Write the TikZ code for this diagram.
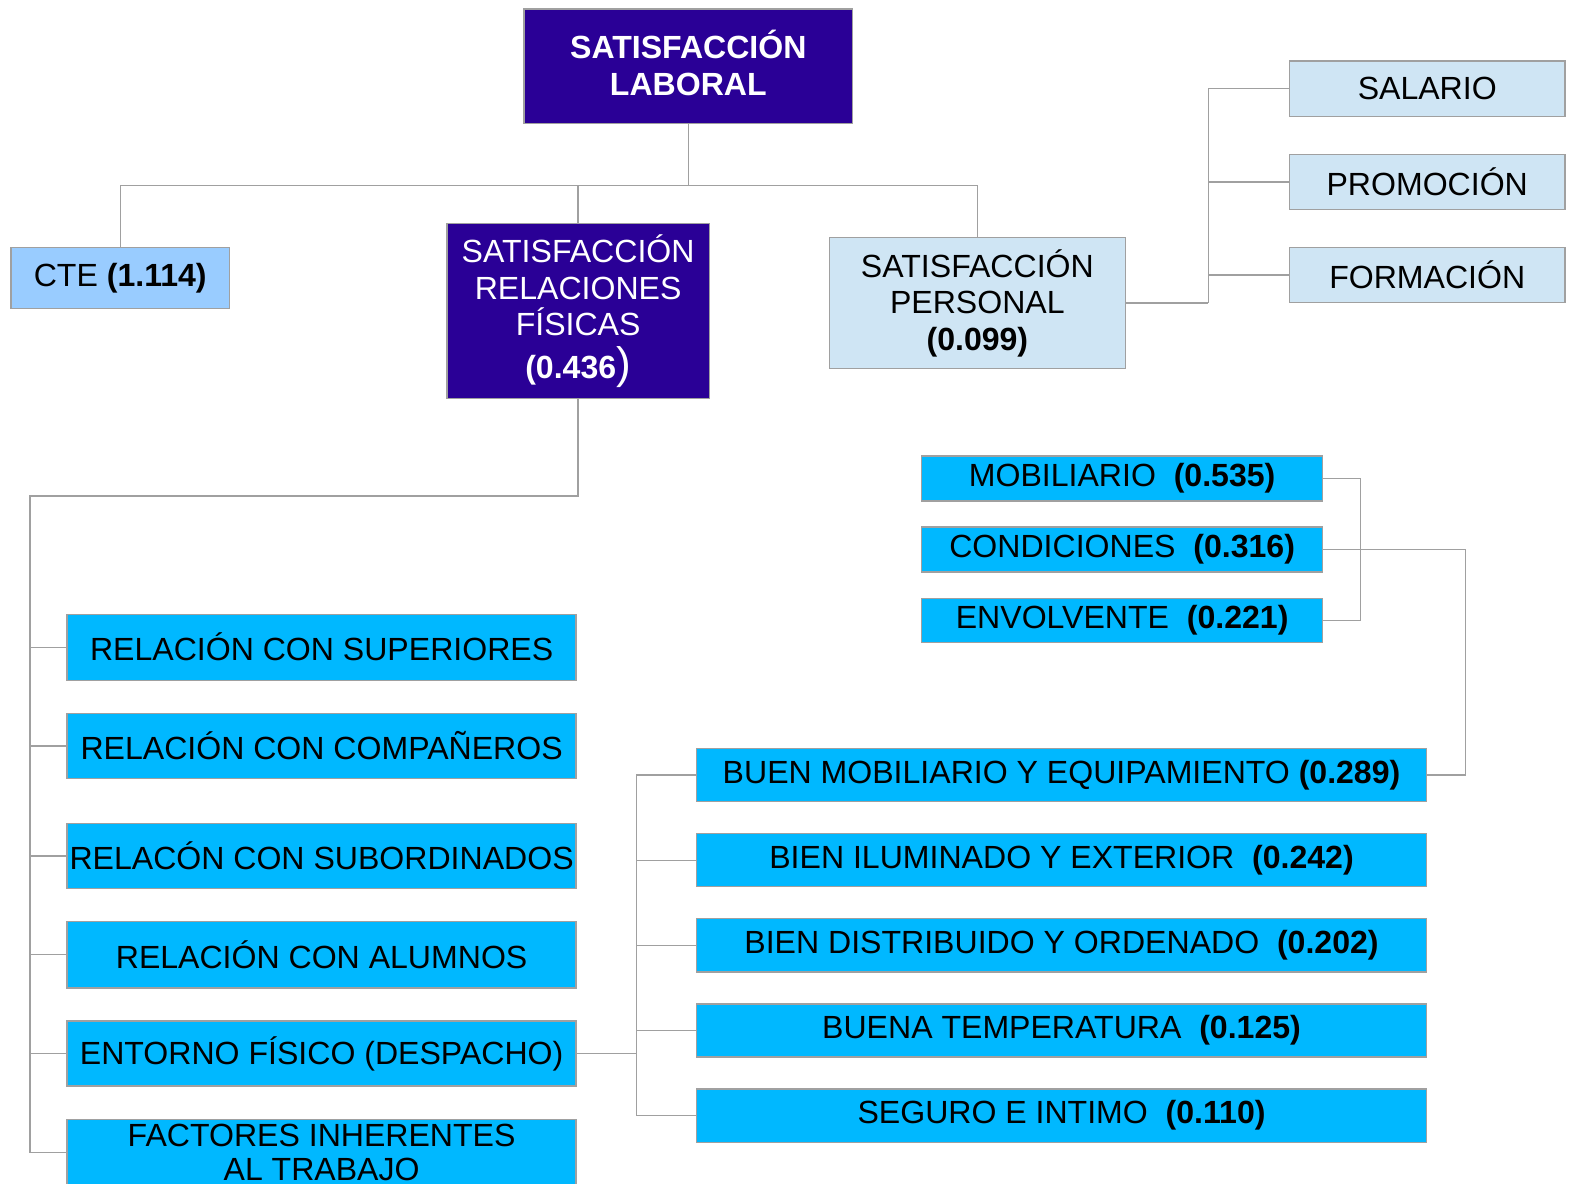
\documentclass[tikz,border=0pt]{standalone}
\usepackage{fontspec}
\setmainfont{Liberation Sans}
\definecolor{purp}{HTML}{2A0096}
\definecolor{ltblue}{HTML}{99CCFF}
\definecolor{pale}{HTML}{CFE5F4}
\definecolor{cyanb}{HTML}{00B8FF}
\definecolor{lgray}{HTML}{A0A0A0}
\begin{document}
\begin{tikzpicture}[x=1pt,y=-1pt,
  box/.style={draw=lgray,line width=1.3pt,rectangle,inner sep=0pt,align=center,
     font=\fontsize{32}{36.5}\selectfont},
  purpbox/.style={box,fill=purp,text=white},
  palebox/.style={box,fill=pale,text=black},
  cbox/.style={box,fill=cyanb,text=black},
  conn/.style={draw=lgray,line width=1.3pt}]
\useasboundingbox (0,0) rectangle (1568,1181);
% top level
\node[purpbox,minimum width=328pt,minimum height=114pt] (top) at (687,66) {};
\node[align=center,text=white,inner sep=0pt,font=\fontsize{32}{37}\selectfont] (toptext) at (687,63) {\textbf{SATISFACCIÓN}\\\textbf{LABORAL}};
\node[box,fill=ltblue,minimum width=218pt,minimum height=61pt] (cte) at (120,277.5) {CTE \textbf{(1.114)}};
\node[purpbox,minimum width=262pt,minimum height=175pt] (rel) at (577,310.5) {SATISFACCIÓN\\RELACIONES\\FÍSICAS\\[6pt]\textbf{(0.436}{\fontsize{44}{44}\selectfont)}};
\node[palebox,minimum width=295pt,minimum height=131pt] (pers) at (975.5,302.5) {SATISFACCIÓN\\PERSONAL\\\textbf{(0.099)}};
% personal children
\node[palebox,minimum width=275pt,minimum height=55pt] (sal) at (1424.5,88.5) {SALARIO};
\node[palebox,minimum width=275pt,minimum height=55pt] (pro) at (1424.5,181.5) {PROMOCIÓN};
\node[palebox,minimum width=275pt,minimum height=55pt] (for) at (1424.5,274.5) {FORMACIÓN};
% left children
\node[cbox,minimum width=508pt,minimum height=66pt] (sup) at (321,646) {RELACIÓN CON SUPERIORES};
\node[cbox,minimum width=508pt,minimum height=65pt] (com) at (321,744.5) {RELACIÓN CON COMPAÑEROS};
\node[cbox,minimum width=508pt,minimum height=65pt] (sub) at (321,854.5) {RELACÓN CON SUBORDINADOS};
\node[cbox,minimum width=508pt,minimum height=66pt] (alu) at (321,953) {RELACIÓN CON ALUMNOS};
\node[cbox,minimum width=508pt,minimum height=65pt] (ent) at (321,1051.5) {ENTORNO FÍSICO (DESPACHO)};
\node[cbox,minimum width=508pt,minimum height=66pt,font=\fontsize{32}{34}\selectfont] (fac) at (321,1150) {FACTORES INHERENTES\\AL TRABAJO};
% entorno children
\node[cbox,minimum width=729pt,minimum height=53pt] (bm) at (1059.5,773.5) {BUEN MOBILIARIO Y EQUIPAMIENTO \textbf{(0.289)}};
\node[cbox,minimum width=729pt,minimum height=53pt] (bi) at (1059.5,858.5) {BIEN ILUMINADO Y EXTERIOR\ \ \textbf{(0.242)}};
\node[cbox,minimum width=729pt,minimum height=53pt] (bd) at (1059.5,943.5) {BIEN DISTRIBUIDO Y ORDENADO\ \ \textbf{(0.202)}};
\node[cbox,minimum width=729pt,minimum height=53pt] (bt) at (1059.5,1028.5) {BUENA TEMPERATURA\ \ \textbf{(0.125)}};
\node[cbox,minimum width=729pt,minimum height=53pt] (seg) at (1059.5,1113.5) {SEGURO E INTIMO\ \ \textbf{(0.110)}};
% mobiliario children
\node[cbox,minimum width=400pt,minimum height=45pt] (mob) at (1120,477.5) {MOBILIARIO\ \ \textbf{(0.535)}};
\node[cbox,minimum width=400pt,minimum height=45pt] (cond) at (1120,548.5) {CONDICIONES\ \ \textbf{(0.316)}};
\node[cbox,minimum width=400pt,minimum height=44pt] (env) at (1120,619) {ENVOLVENTE\ \ \textbf{(0.221)}};
% connectors
\coordinate (bus) at (687,185);
\draw[conn] (top.south) -- (bus);
\draw[conn] (cte.north) |- (bus) -| (pers.north);
\draw[conn] (rel.north) -- (rel.north |- bus);
\coordinate (pj) at (1206,302.5);
\draw[conn] (pers.east) -- (pj);
\draw[conn] (sal.west) -| (pj);
\draw[conn] (pro.west) -- (pro.west -| pj);
\draw[conn] (for.west) -- (for.west -| pj);
\coordinate (lb) at (30,495);
\draw[conn] (rel.south) |- (lb) -- (lb |- fac.west) -- (fac.west);
\foreach \n in {sup,com,sub,alu,ent} \draw[conn] (\n.west) -- (\n.west -| lb);
\coordinate (ej) at (635,1051.5);
\draw[conn] (ent.east) -- (ej);
\draw[conn] (bm.west) -| (seg.west -| ej) -- (seg.west);
\foreach \n in {bi,bd,bt} \draw[conn] (\n.west) -- (\n.west -| ej);
\draw[conn] (mob.east) -- ++(37,0) |- (env.east);
\draw[conn] (cond.east) -- ++(142,0) |- (bm.east);
\end{tikzpicture}
\end{document}
